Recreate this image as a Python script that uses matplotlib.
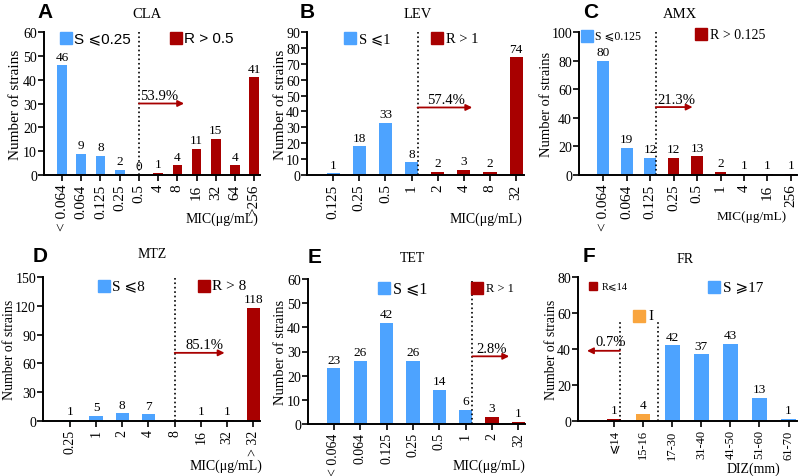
import matplotlib.pyplot as plt

plt.rcParams['font.family'] = ['Liberation Serif', 'DejaVu Sans']

W, H = 799, 477
BLUE = '#4DA3FF'
RED = '#A80000'
ORANGE = '#F9A53E'

# ---- data ----
cla_cats = ['< 0.064', '0.064', '0.125', '0.25', '0.5', '4', '8', '16', '32', '64', '>256']
cla_vals = [46, 9, 8, 2, 0, 1, 4, 11, 15, 4, 41]

lev_cats = ['0.125', '0.25', '0.5', '1', '2', '4', '8', '32']
lev_vals = [1, 18, 33, 8, 2, 3, 2, 74]

amx_cats = ['< 0.064', '0.064', '0.125', '0.25', '0.5', '1', '4', '16', '256']
amx_vals = [80, 19, 12, 12, 13, 2, 1, 1, 1]

mtz_cats = ['0.25', '1', '2', '4', '8', '16', '32', '> 32']
mtz_vals = [1, 5, 8, 7, 0, 1, 1, 118]

tet_cats = ['< 0.064', '0.064', '0.125', '0.25', '0.5', '1', '2', '32']
tet_vals = [23, 26, 42, 26, 14, 6, 3, 1]

fr_cats = ['⩽14', '15-16', '17-30', '31-40', '41-50', '51-60', '61-70']
fr_vals = [1, 4, 42, 37, 43, 13, 1]

fig = plt.figure(figsize=(W / 100, H / 100), dpi=100)


def make_ax(l, r, t, b):
    return fig.add_axes([l / W, 1 - b / H, (r - l) / W, (b - t) / H])


def ftext(x, y, s, **kw):
    fig.text(x / W, 1 - y / H, s, **kw)


def draw(ax, cats, vals, colors, xlim, ylim, yticks, labels=None, xfs=10.5,
         yl_fs=11, yl_x=-0.13):
    x = list(range(len(cats)))
    ax.bar(x, vals, width=0.5, color=colors, zorder=2)
    if labels is None:
        labels = [str(v) for v in vals]
    for i, (v, lab) in enumerate(zip(vals, labels)):
        if lab:
            ax.annotate(lab, (i, v), xytext=(0, 2), textcoords='offset points',
                        ha='center', va='bottom', fontsize=9.5)
    ax.set_xticks(x)
    ax.set_xticklabels(cats, rotation=90, fontsize=xfs)
    ax.set_xlim(*xlim)
    ax.set_ylim(*ylim)
    ax.set_yticks(yticks)
    ax.tick_params(axis='y', labelsize=10, direction='out', length=4, width=1.2, pad=1)
    ax.tick_params(axis='x', direction='out', length=4, width=1.2, pad=2)
    for s in ['top', 'right']:
        ax.spines[s].set_visible(False)
    for s in ['left', 'bottom']:
        ax.spines[s].set_linewidth(1.4)
    ax.set_ylabel('Number of strains', fontsize=yl_fs, va='center')
    ax.yaxis.set_label_coords(yl_x, 0.5)


def legend_item(ax, x, y, color, text, fs=10.5, ms=9, family=None):
    ax.plot([x], [y], marker='s', ms=ms, color=color, transform=ax.transAxes,
            clip_on=False, linestyle='none')
    kw = {}
    if family:
        kw['family'] = family
    ax.text(x + 0.04, y, text, transform=ax.transAxes, fontsize=fs, va='center', **kw)


def arrow(ax, x0, x1, y, pct, tx=None):
    ax.annotate('', xy=(x1, y), xytext=(x0, y),
                arrowprops=dict(arrowstyle='-|>', color=RED, lw=1.3,
                                mutation_scale=9, shrinkA=0, shrinkB=0))
    if tx is None:
        tx = x0 + 0.05
    ax.annotate(pct, (tx, y), xytext=(0, 1), textcoords='offset points',
                ha='left', va='bottom', fontsize=10.5)


# ---- A: CLA ----
ax = make_ax(44, 260, 33, 176)
draw(ax, cla_cats, cla_vals, [BLUE] * 5 + [RED] * 6, (-0.94, 10.3), (0, 60),
     range(0, 61, 10), xfs=11, yl_fs=11, yl_x=-0.134)
ax.axvline(4, color='k', ls=':', lw=1.2)
arrow(ax, 4, 6.35, 30, '53.9%')
legend_item(ax, 0.1, 0.96, BLUE, 'S ⩽0.25', fs=11, family=['Liberation Sans', 'DejaVu Sans'])
legend_item(ax, 0.61, 0.96, RED, 'R > 0.5', fs=11, family=['Liberation Sans', 'DejaVu Sans'])
ftext(37, 18, 'A', fontsize=15, fontweight='bold', family='Liberation Sans')
ftext(147, 15, 'CLA', fontsize=10.5, ha='center', va='center')
ftext(258, 219, 'MIC(μg/mL)', fontsize=10, ha='right', va='center')

# ---- B: LEV ----
ax = make_ax(307, 524, 33, 176)
draw(ax, lev_cats, lev_vals, [BLUE] * 4 + [RED] * 4, (-1.0, 7.3), (0, 90),
     range(0, 91, 10), xfs=11, yl_fs=11, yl_x=-0.124)
ax.axvline(3.23, color='k', ls=':', lw=1.2)
arrow(ax, 3.23, 5.32, 42.5, '57.4%', tx=3.6)
legend_item(ax, 0.2, 0.955, BLUE, 'S ⩽1')
legend_item(ax, 0.6, 0.955, RED, 'R > 1')
ftext(300, 18, 'B', fontsize=15, fontweight='bold', family='Liberation Sans')
ftext(418, 15, 'LEV', fontsize=10.5, ha='center', va='center')
ftext(522, 219, 'MIC(μg/mL)', fontsize=10, ha='right', va='center')

# ---- C: AMX ----
ax = make_ax(579, 797, 33, 176)
draw(ax, amx_cats, amx_vals, [BLUE] * 3 + [RED] * 6, (-1.03, 8.26), (0, 100),
     range(0, 101, 20), xfs=11, yl_fs=10.5, yl_x=-0.147)
ax.axvline(2.24, color='k', ls=':', lw=1.2)
arrow(ax, 2.24, 3.81, 47.5, '21.3%')
legend_item(ax, 0.035, 0.975, BLUE, 'S ⩽0.125', fs=8.5, ms=8)
legend_item(ax, 0.56, 0.985, RED, 'R > 0.125', fs=10)
ftext(583, 18, 'C', fontsize=15, fontweight='bold', family='Liberation Sans')
ftext(680, 14, 'AMX', fontsize=10.5, ha='center', va='center')
ftext(787, 217, 'MIC(μg/mL)', fontsize=9.5, ha='right', va='center')

# ---- D: MTZ ----
ax = make_ax(43, 260, 278, 422)
mtz_labels = [str(v) if v else '' for v in mtz_vals]
draw(ax, mtz_cats, mtz_vals, [BLUE] * 4 + [RED] * 4, (-1.02, 7.25), (0, 150),
     range(0, 151, 30), labels=mtz_labels, xfs=10, yl_fs=10, yl_x=-0.155)
ax.axvline(4, color='k', ls=':', lw=1.2)
arrow(ax, 4, 5.9, 71, '85.1%', tx=4.4)
legend_item(ax, 0.28, 0.94, BLUE, 'S ⩽8', fs=11)
legend_item(ax, 0.74, 0.94, RED, 'R > 8', fs=11)
ftext(33, 262, 'D', fontsize=15, fontweight='bold', family='Liberation Sans')
ftext(152, 255, 'MTZ', fontsize=10, ha='center', va='center')
ftext(262, 466, 'MIC(μg/mL)', fontsize=10, ha='right', va='center')

# ---- E: TET ----
ax = make_ax(308, 525, 280, 425)
draw(ax, tet_cats, tet_vals, [BLUE] * 6 + [RED] * 2, (-0.98, 7.25), (0, 60),
     range(0, 61, 10), xfs=10, yl_fs=10.5, yl_x=-0.129)
ax.axvline(5.25, color='k', ls=':', lw=1.2)
arrow(ax, 5.25, 6.65, 28, '2.8%', tx=5.4)
legend_item(ax, 0.35, 0.94, BLUE, 'S ⩽1', fs=11.5)
legend_item(ax, 0.78, 0.94, RED, 'R > 1', fs=9)
ftext(308, 263, 'E', fontsize=15, fontweight='bold', family='Liberation Sans')
ftext(412, 258, 'TET', fontsize=10, ha='center', va='center')
ftext(525, 466, 'MIC(μg/mL)', fontsize=10, ha='right', va='center')

# ---- F: FR ----
ax = make_ax(578, 797, 278, 422)
draw(ax, fr_cats, fr_vals, [RED, ORANGE] + [BLUE] * 5, (-1.24, 6.29), (0, 80),
     range(0, 81, 20), xfs=9, yl_fs=10, yl_x=-0.119)
ax.axvline(0.2, ymax=55 / 80, color='k', ls=':', lw=1.2)
ax.axvline(1.52, ymax=55 / 80, color='k', ls=':', lw=1.2)
ax.annotate('', xy=(-0.93, 39), xytext=(0.2, 39),
            arrowprops=dict(arrowstyle='-|>', color=RED, lw=1.3,
                            mutation_scale=9, shrinkA=0, shrinkB=0))
ax.annotate('0.7%', (-0.1, 39), xytext=(0, 2), textcoords='offset points',
            ha='center', va='bottom', fontsize=10.5)
legend_item(ax, 0.07, 0.935, RED, 'R⩽14', fs=7.5, ms=6)
legend_item(ax, 0.62, 0.93, BLUE, 'S ⩾17', fs=11)
legend_item(ax, 0.28, 0.73, ORANGE, 'I', fs=11)
ftext(583, 262, 'F', fontsize=15, fontweight='bold', family='Liberation Sans')
ftext(685, 260, 'FR', fontsize=10, ha='center', va='center')
ftext(780, 469, 'DIZ(mm)', fontsize=10, ha='right', va='center')

fig.savefig('out.png', dpi=100)
